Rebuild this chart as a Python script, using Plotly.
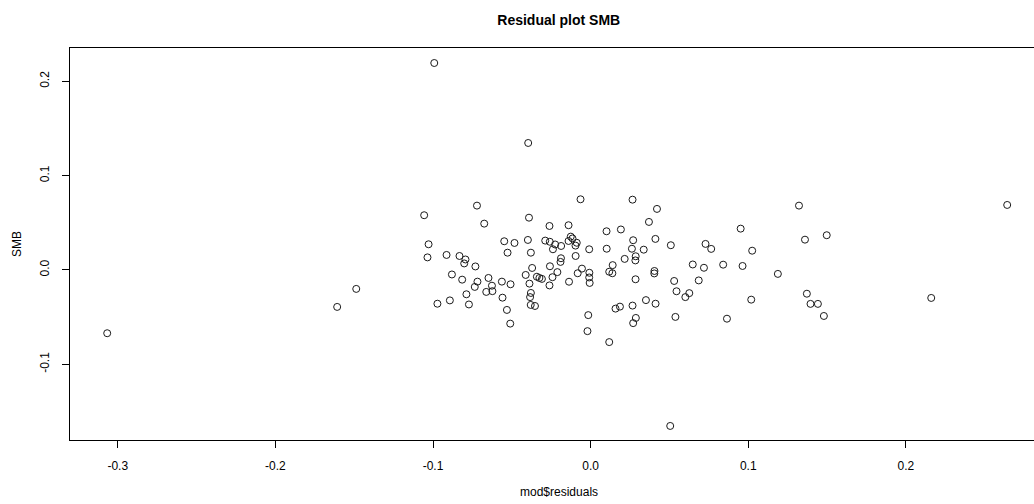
import plotly.graph_objects as go

residuals = [
    -0.3067, -0.1608, -0.1487, -0.0992, -0.0396, 0.0505, 0.2161, 0.2643,
    -0.1056, -0.0721, -0.0675, -0.0391, -0.0261, -0.1028, -0.0548, -0.0483,
    -0.0398, -0.0288, -0.0259, -0.0225, -0.0527, -0.0379, -0.0239, -0.1035,
    -0.0914, -0.0832, -0.0794, -0.0802, -0.0064, 0.0266, 0.0421, 0.0370,
    -0.0140, 0.0101, 0.0192, -0.0126, -0.0115, -0.0140, -0.0088, -0.0096,
    0.0270, 0.0411, 0.0509, -0.0187, -0.0009, 0.0102, 0.0262, 0.0337,
    -0.0095, -0.0188, -0.0191, 0.0216, 0.0286, 0.0284, 0.1322, 0.0952,
    0.1498, 0.1360, 0.0729, 0.0765, 0.1025, -0.0731, -0.0371, -0.0258,
    -0.0211, -0.0880, -0.0815, -0.0718, -0.0648, -0.0735, -0.0626, -0.0563,
    -0.0508, -0.0412, -0.0388, -0.0341, -0.0325, -0.0309, -0.0242, -0.0261,
    -0.0662, -0.0623, -0.0788, -0.0559, -0.0379, -0.0384, -0.0972, -0.0893,
    -0.0772, -0.0380, -0.0353, -0.0531, -0.0510, -0.0082, -0.0055, -0.0137,
    -0.0008, -0.0009, -0.0006, 0.0140, 0.0118, 0.0138, 0.0285, 0.0405,
    0.0404, 0.0648, 0.0686, 0.0530, 0.0545, 0.0626, 0.0601, 0.0351,
    0.0412, 0.0266, 0.0186, 0.0158, -0.0015, 0.0287, 0.0270, 0.0538,
    -0.0020, 0.0118, 0.0719, 0.0841, 0.0964, 0.1188, 0.1019, 0.1372,
    0.1395, 0.1442, 0.1480, 0.0865,
]

smb = [
    -0.0671, -0.0392, -0.0201, 0.2194, 0.1346, -0.1654, -0.0297, 0.0689,
    0.0580, 0.0682, 0.0491, 0.0554, 0.0466, 0.0272, 0.0304, 0.0286,
    0.0318, 0.0311, 0.0299, 0.0270, 0.0183, 0.0183, 0.0219, 0.0133,
    0.0159, 0.0148, 0.0111, 0.0069, 0.0749, 0.0745, 0.0647, 0.0509,
    0.0474, 0.0410, 0.0429, 0.0353, 0.0334, 0.0307, 0.0288, 0.0258,
    0.0315, 0.0329, 0.0262, 0.0254, 0.0219, 0.0225, 0.0225, 0.0215,
    0.0148, 0.0124, 0.0085, 0.0117, 0.0145, 0.0101, 0.0682, 0.0438,
    0.0368, 0.0321, 0.0276, 0.0223, 0.0204, 0.0037, 0.0021, 0.0039,
    -0.0023, -0.0048, -0.0103, -0.0124, -0.0085, -0.0180, -0.0167, -0.0124,
    -0.0152, -0.0053, -0.0145, -0.0072, -0.0085, -0.0095, -0.0077, -0.0164,
    -0.0233, -0.0225, -0.0258, -0.0294, -0.0244, -0.0288, -0.0358, -0.0323,
    -0.0366, -0.0371, -0.0382, -0.0424, -0.0569, -0.0035, 0.0014, -0.0125,
    -0.0030, -0.0080, -0.0138, 0.0051, -0.0019, -0.0035, -0.0099, -0.0011,
    -0.0037, 0.0058, -0.0111, -0.0117, -0.0226, -0.0246, -0.0288, -0.0320,
    -0.0358, -0.0378, -0.0389, -0.0410, -0.0479, -0.0509, -0.0564, -0.0498,
    -0.0649, -0.0765, 0.0023, 0.0056, 0.0042, -0.0042, -0.0315, -0.0252,
    -0.0360, -0.0360, -0.0488, -0.0517,
]

x_ticks = [-0.3, -0.2, -0.1, 0.0, 0.1, 0.2]
x_tick_text = ["-0.3", "-0.2", "-0.1", "0.0", "0.1", "0.2"]
y_ticks = [-0.1, 0.0, 0.1, 0.2]
y_tick_text = ["-0.1", "0.0", "0.1", "0.2"]

FONT = "Liberation Sans, Arial, Helvetica, sans-serif"

fig = go.Figure()
fig.add_trace(go.Scatter(
    x=residuals, y=smb, mode="markers",
    marker=dict(symbol="circle-open", size=7, color="#1a1a1a",
                line=dict(width=1, color="#1a1a1a")),
    hoverinfo="x+y", showlegend=False,
))

fig.update_layout(
    width=1034, height=504,
    margin=dict(l=70, r=0, t=48, b=64),
    paper_bgcolor="white", plot_bgcolor="white",
    font=dict(family=FONT, size=12, color="black"),
    title=dict(text="<b>Residual plot SMB</b>", x=0.507, xref="paper",
               y=1 - 20 / 504, yref="container", xanchor="center", yanchor="middle",
               font=dict(family=FONT, size=14, color="black")),
    annotations=[
        dict(text="mod$residuals", x=0.507, y=-(492 - 440) / 392, xref="paper", yref="paper",
             showarrow=False, xanchor="center", yanchor="middle",
             font=dict(family=FONT, size=12, color="black")),
        dict(text="SMB", x=(17 - 70) / 964, y=0.5, xref="paper", yref="paper",
             showarrow=False, xanchor="center", yanchor="middle", textangle=-90,
             font=dict(family=FONT, size=12, color="black")),
    ],
)

fig.update_xaxes(
    range=[-0.3303, 0.2813], showgrid=False, zeroline=False,
    showline=True, linecolor="black", linewidth=1, mirror=True,
    tickmode="array", tickvals=x_ticks, ticktext=x_tick_text,
    ticks="outside", ticklen=7, tickcolor="black", tickwidth=1,
    ticklabelstandoff=8,
)
fig.update_yaxes(
    range=[-0.1803, 0.2353], showgrid=False, zeroline=False,
    showline=True, linecolor="black", linewidth=1,
    tickmode="array", tickvals=y_ticks, ticktext=y_tick_text,
    ticks="outside", ticklen=7, tickcolor="black", tickwidth=1,
    tickangle=-90, ticklabelstandoff=8,
)

fig.write_html("out.html")
